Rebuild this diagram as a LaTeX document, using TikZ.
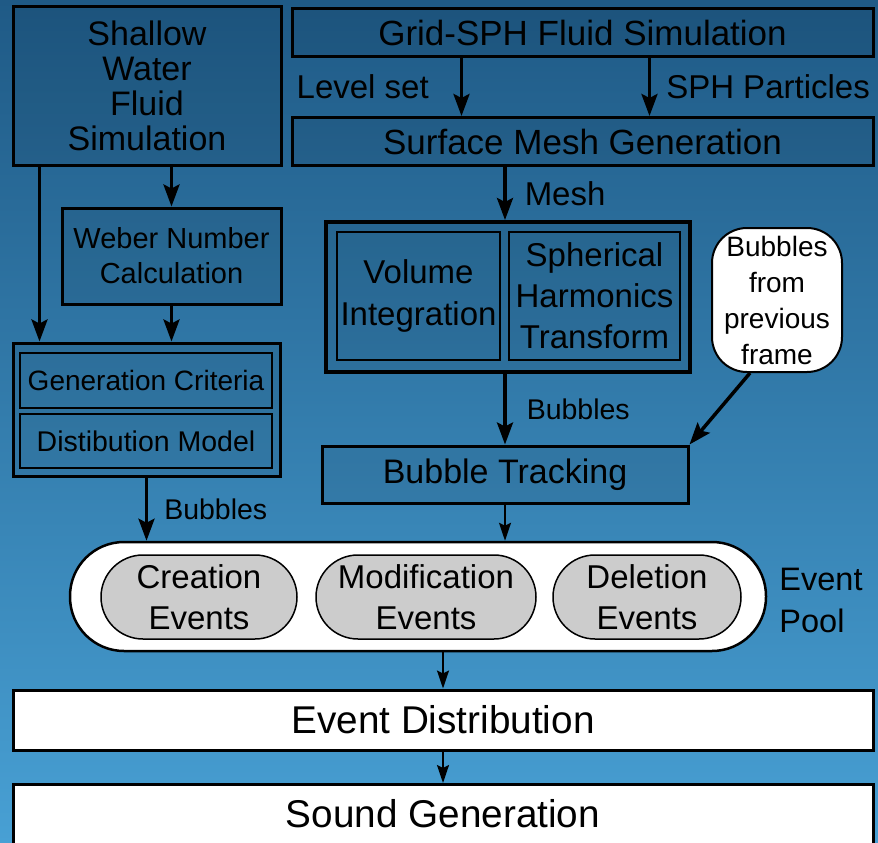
\documentclass[tikz,border=0pt]{standalone}
\usepackage{fontspec}
\setmainfont{Liberation Sans}
\usetikzlibrary{arrows.meta}

\definecolor{bgtop}{RGB}{31,90,134}
\definecolor{bgbot}{RGB}{72,160,212}
\definecolor{evgray}{RGB}{204,204,204}

\def\fsize#1#2{\fontsize{#1}{#2}\selectfont}

\begin{document}
\begin{tikzpicture}[x=1pt,y=-1pt,
    box/.style={draw,line width=3pt,fill=black,fill opacity=0.07,text opacity=1,inner sep=0pt,align=center},
    inbox/.style={draw,line width=1.5pt,inner sep=0pt,align=center},
    whitebox/.style={draw,line width=3pt,fill=white,inner sep=0pt,minimum width=860pt,font=\fsize{38.7}{42}},
    event/.style={draw,line width=1.5pt,fill=evgray,rounded corners=42pt,minimum height=84pt,inner sep=0pt,align=center,font=\fsize{33}{41}},
    arr/.style={line width=3.5pt,-{Stealth[length=22pt,width=16pt,inset=4pt]}},
    thinarr/.style={line width=2pt,-{Stealth[length=18pt,width=12pt,inset=3pt]}},
    lbl/.style={inner sep=0pt,font=\fsize{33}{35}}
  ]
  % background
  \useasboundingbox (0,0) rectangle (878,843);
  \clip (0,0) rectangle (878,843);
  \shade[top color=bgtop,bottom color=bgbot] (0,0) rectangle (878,843);

  % shallow water branch
  \node[box,minimum width=268pt,minimum height=158pt,font=\fsize{34}{35}] (shallow) at (147,86)
    {Shallow\\Water\\Fluid\\Simulation};
  \node[box,minimum width=219pt,minimum height=96pt,font=\fsize{29}{35}] (weber) at (171.5,256)
    {Weber Number\\Calculation};
  \node[box,minimum width=267pt,minimum height=133pt] (gen) at (146.5,409.5) {};
  \node[inbox,minimum width=252pt,minimum height=55pt,font=\fsize{28}{30}] (crit) at (146,380.5)
    {Generation Criteria};
  \node[inbox,minimum width=252pt,minimum height=54pt,font=\fsize{28.5}{30}] (distm) at (146,441)
    {Distibution Model};

  % grid-sph branch
  \node[box,minimum width=581pt,minimum height=48pt,font=\fsize{35}{36}] (grid) at (582.5,32.5)
    {Grid-SPH Fluid Simulation};
  \node[box,minimum width=581pt,minimum height=48pt,font=\fsize{35}{36}] (surf) at (582.5,141.5)
    {Surface Mesh Generation};
  \node[box,line width=4pt,minimum width=364pt,minimum height=150pt] (vol) at (508,297) {};
  \node[inbox,minimum width=163pt,minimum height=128pt,font=\fsize{33}{42}] (volint) at (418.5,296)
    {Volume\\Integration};
  \node[inbox,minimum width=171pt,minimum height=128pt,font=\fsize{33}{41}] (sph) at (594.5,296)
    {Spherical\\Harmonics\\Transform};
  \node[draw,line width=2pt,fill=white,rounded corners=35pt,minimum width=130pt,minimum height=144pt,
    inner sep=0pt,align=center,font=\fsize{28}{36}] (prev) at (777,300)
    {Bubbles\\from\\previous\\frame};
  \node[box,minimum width=366pt,minimum height=57pt,font=\fsize{34}{35}] (track) at (505,474.5)
    {Bubble Tracking};

  % event pool
  \node[draw,line width=2.5pt,fill=white,rounded corners=54pt,minimum width=696pt,minimum height=109pt] (pool) at (418,596.5) {};
  \node[event,minimum width=196pt] (create) at (199,597) {Creation\\Events};
  \node[event,minimum width=220pt] (modif) at (426,597) {Modification\\Events};
  \node[event,minimum width=188pt] (delete) at (647,597) {Deletion\\Events};
  \node[inner sep=0pt,align=left,font=\fsize{32.5}{42}] (poollbl) at (821,600) {Event\\Pool};

  % output
  \node[whitebox,minimum height=60pt] (dist) at (443,720) {Event Distribution};
  \node[whitebox,anchor=north,text height=43pt,text depth=30pt] (sound) at (443,783) {Sound Generation};

  % connectors
  \draw[arr] ([xshift=28pt]shallow.south west) -- ([xshift=28pt]gen.north west);
  \draw[arr] (shallow.south -| weber.north) -- (weber.north);
  \draw[arr] (weber.south) -- (weber.south |- gen.north);
  \draw[arr] (gen.south) -- (gen.south |- pool.north)
    node[lbl,midway,right=16pt,font=\fsize{28.5}{30}] {Bubbles};
  \draw[arr] ([xshift=171pt]grid.south west) -- ([xshift=171pt]surf.north west)
    node[lbl,midway,left=31pt] {Level set};
  \draw[arr] ([xshift=359pt]grid.south west) -- ([xshift=359pt]surf.north west)
    node[lbl,midway,right=15pt] {SPH Particles};
  \draw[arr] ([xshift=-77.5pt]surf.south) -- ([xshift=-77.5pt]surf.south |- vol.north)
    node[lbl,midway,right=18pt] {Mesh};
  \draw[arr] ([xshift=-3pt]vol.south) -- ([xshift=-3pt]vol.south |- track.north)
    node[lbl,midway,right=20pt,font=\fsize{28.5}{30}] {Bubbles};
  \draw[arr] ([xshift=-27pt]prev.south) -- (track.north east);
  \draw[thinarr] (track.south) -- (track.south |- pool.north);
  \draw[thinarr] (dist.north |- pool.south) -- (dist.north);
  \draw[thinarr] (dist.south) -- (sound.north);
\end{tikzpicture}
\end{document}
